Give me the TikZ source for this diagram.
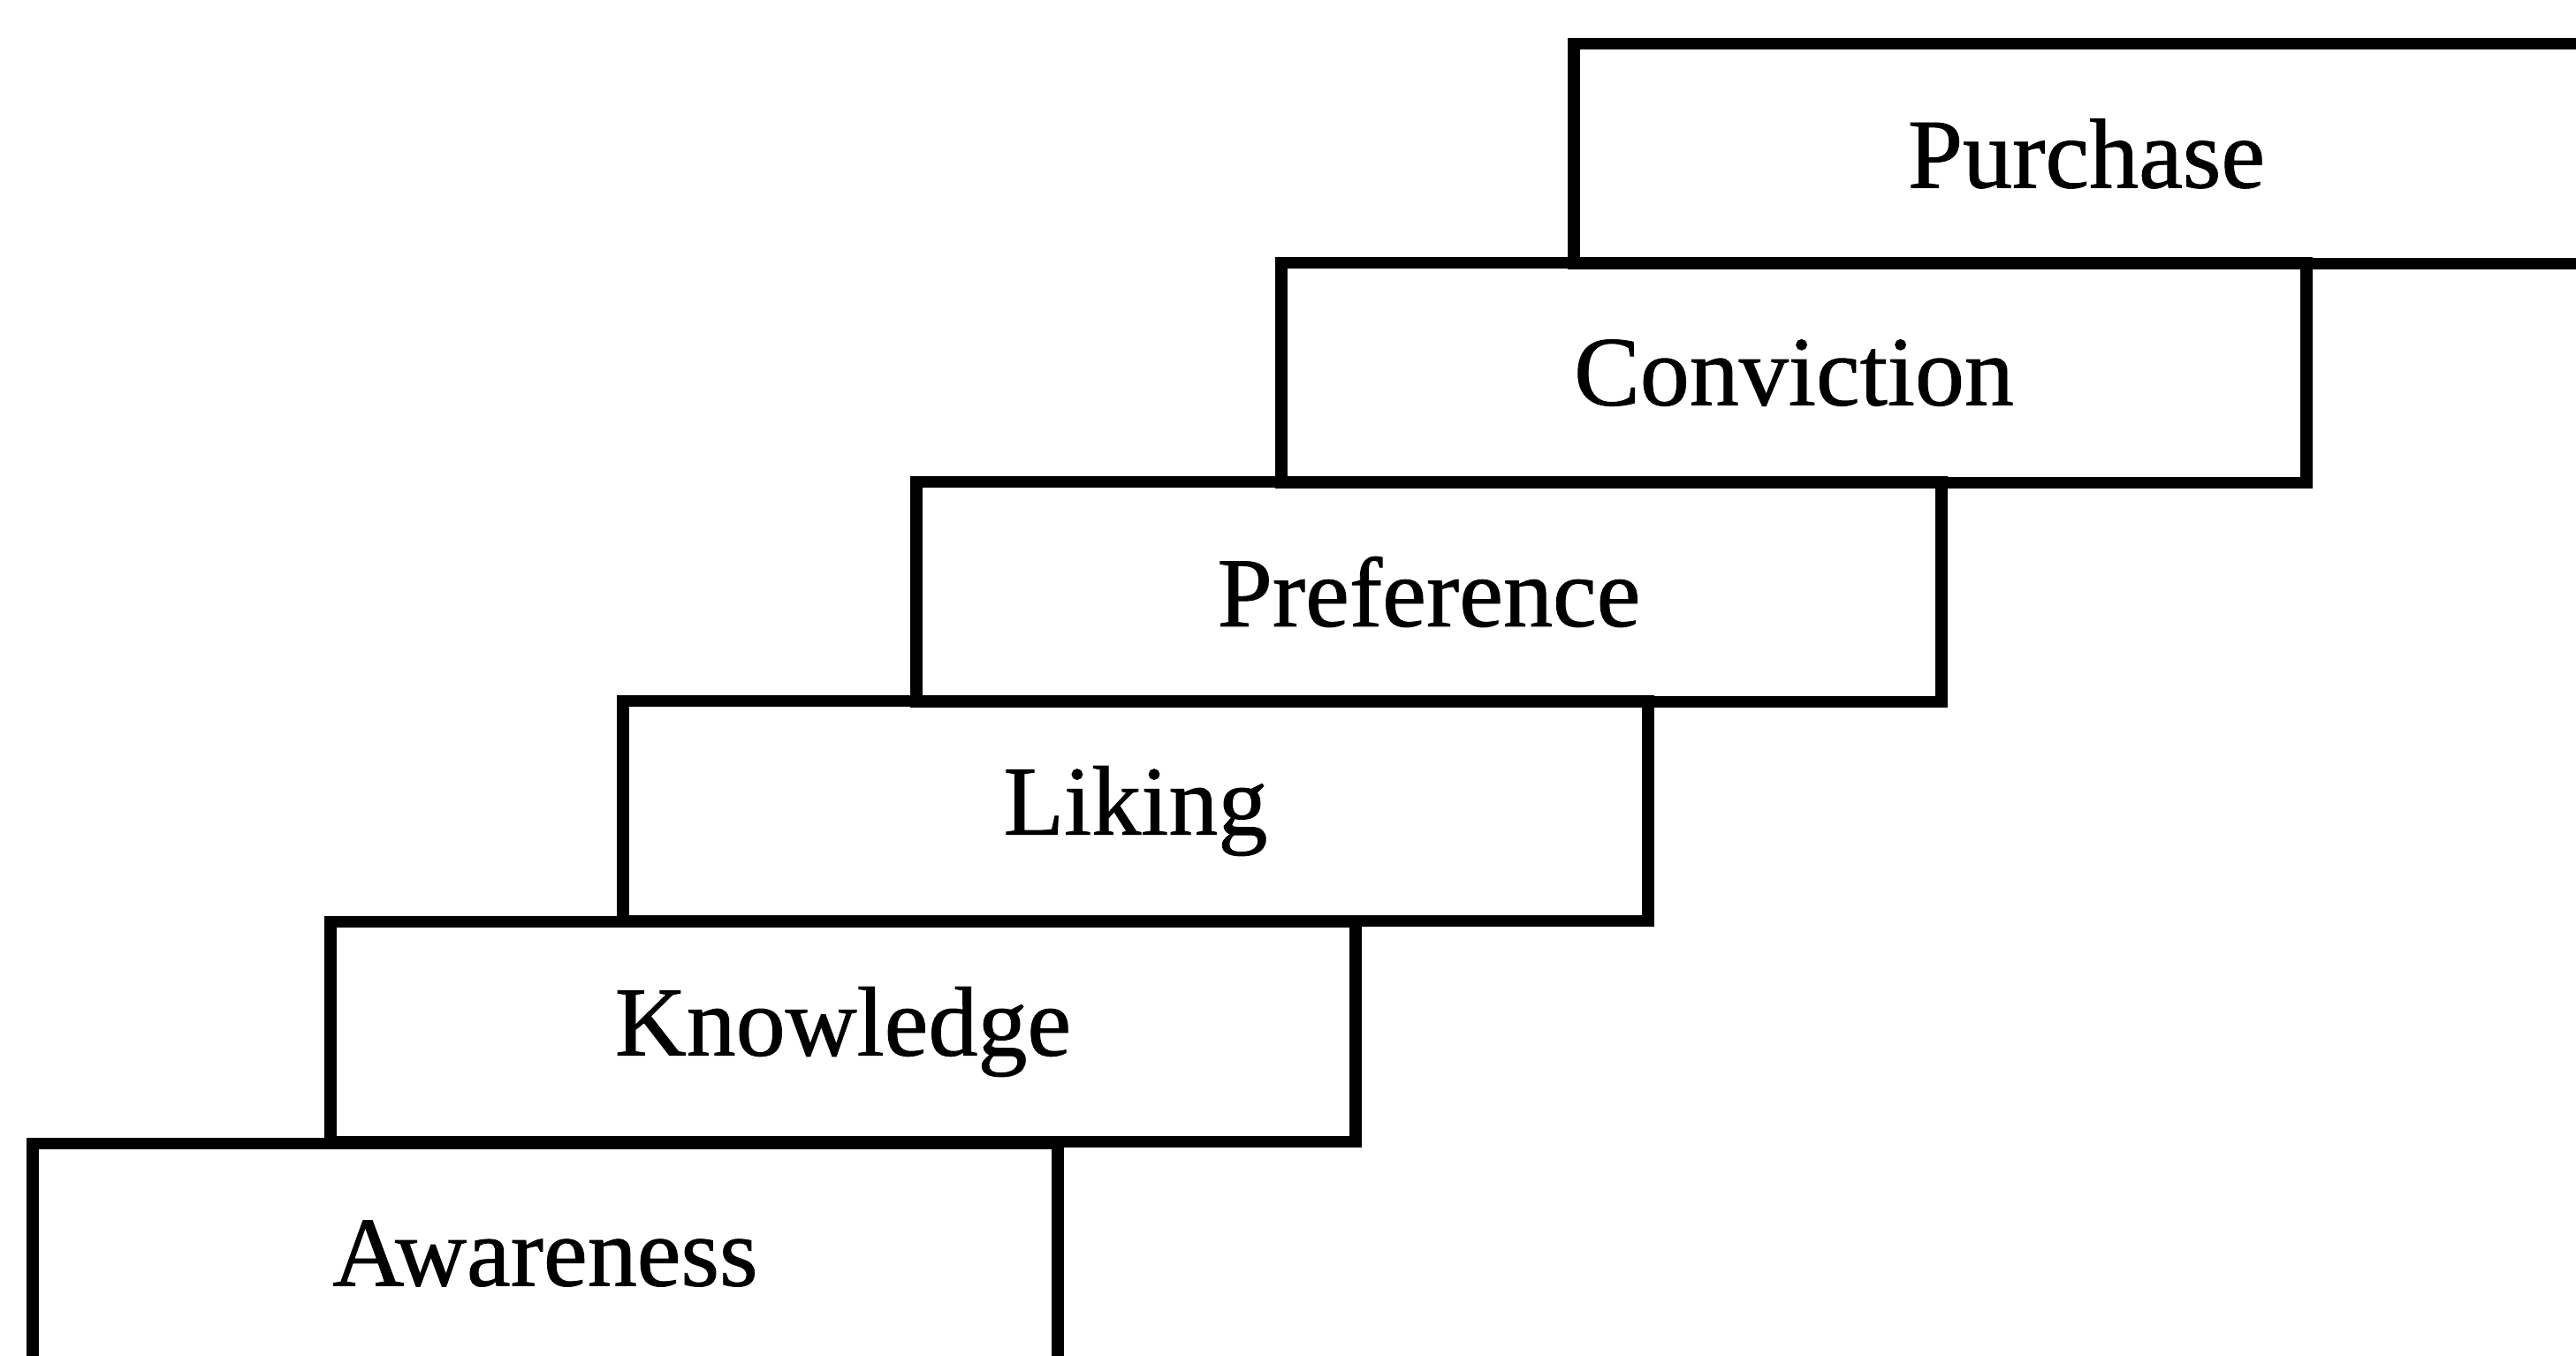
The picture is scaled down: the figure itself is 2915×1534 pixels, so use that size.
\documentclass[tikz,border=0pt]{standalone}
\usepackage{fontspec}
\setmainfont{Liberation Serif}[FakeBold=0.8]
\begin{document}
\begin{tikzpicture}[x=0.25pt, y=-0.25pt,
  stage/.style={draw=black, line width=3.3pt, rectangle,
    minimum width=290pt, minimum height=62.25pt, inner sep=0pt,
    font=\fontsize{28}{32}\selectfont}]
  % page frame
  \fill[white] (0,0) rectangle (2915,1534);
  \useasboundingbox (0,0) rectangle (2915,1534);
  \clip (0,0) rectangle (2915,1534);
  % the steps, from the top down
  \node[stage] (purchase)   at (2361,174) {Purchase};
  \node[stage] (conviction) at (2030,422) {Conviction};
  \node[stage] (preference) at (1617,670) {Preference};
  \node[stage] (liking)     at (1285,918) {Liking};
  \node[stage] (knowledge)  at (954,1168) {Knowledge};
  \node[stage] (awareness)  at (617,1419) {Awareness};
\end{tikzpicture}
\end{document}
